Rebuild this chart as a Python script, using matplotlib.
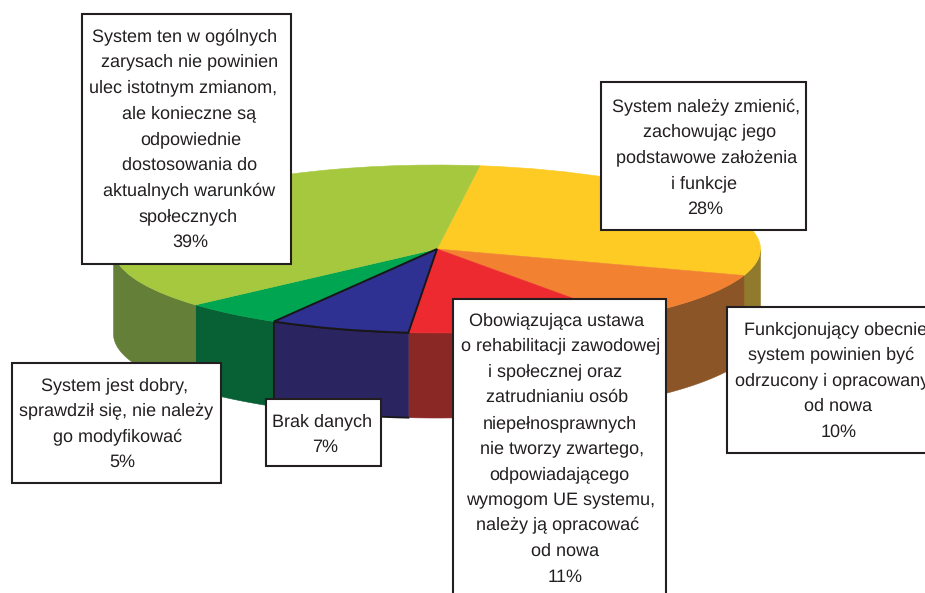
import matplotlib
matplotlib.use('Agg')
import matplotlib.pyplot as plt
import numpy as np

plt.rcParams['font.family'] = ['Liberation Sans', 'DejaVu Sans']
plt.rcParams['text.hinting'] = 'no_hinting'
plt.rcParams['text.hinting_factor'] = 1

# udzialy odpowiedzi, w kolejnosci od zoltego zgodnie z zegarem
values = [28, 10, 11.3, 7, 5, 38.7]
top_colors = ['#FDCB23', '#F28132', '#ED2A2F', '#2E3192', '#00A551', '#A6C83F']
side_colors = ['#8F7A2D', '#8B5527', '#8A2825', '#2A2560', '#086035', '#647F38']

label_lines = [
    ['System należy zmienić,', 'zachowując jego', 'podstawowe założenia', 'i funkcje'],
    ['Funkcjonujący obecnie', 'system powinien być', 'odrzucony i opracowany', 'od nowa'],
    ['Obowiązująca ustawa', 'o rehabilitacji zawodowej', 'i społecznej oraz', 'zatrudnianiu osób',
     'niepełnosprawnych', 'nie tworzy zwartego,', 'odpowiadającego', 'wymogom UE systemu,',
     'należy ją opracować', 'od nowa'],
    ['Brak danych'],
    ['System jest dobry,', 'sprawdził się, nie należy', 'go modyfikować'],
    ['System ten w ogólnych', 'zarysach nie powinien', 'ulec istotnym zmianom,',
     'ale konieczne są', 'odpowiednie', 'dostosowania do', 'aktualnych warunków', 'społecznych'],
]
# ramki x0, y0, x1, y1 w pikselach
boxes = [
    (601, 82, 806, 230),
    (727, 307, 940, 453),
    (453, 299, 666, 610),
    (266, 399, 381, 466),
    (12, 363, 221, 483),
    (82, 14, 291, 264),
]
# srodek kazdej linii, ostatnia to procent
line_x = [
    [706, 710, 707, 704.5, 705],
    [835.5, 831.5, 832, 838, 839],
    [556.5, 561, 555.5, 557, 560, 562.5, 559, 561, 557.5, 565, 565],
    [322, 325.5],
    [115, 116, 118, 122],
    [184.5, 190, 183, 189, 190.5, 190, 189, 188, 190],
]
first_baseline = [111, 334, 325, 426, 390, 41]

W, H = 925, 593
cx, cy, rx, ry, depth = 437, 249, 323.5, 84, 85
start = 82.4
squash = rx / ry
line_gap = 25.7

fig = plt.figure(figsize=(W / 100, H / 100), dpi=100)

ax = fig.add_axes([0, 0, 1, 1])
center = (cx, (H - cy) * squash)
wedges, _ = ax.pie(values, colors=top_colors, startangle=start, counterclock=False,
                   center=center, radius=rx, frame=False,
                   wedgeprops={'linewidth': 0.4, 'zorder': 3})
for w, c in zip(wedges, top_colors):
    w.set_edgecolor(c)
ax.set_aspect('auto')
ax.set_xlim(0, W)
ax.set_ylim(0, H * squash)
ax.axis('off')

# navy slice has a black outline in the original
wedges[3].set_edgecolor('#1A1718')
wedges[3].set_linewidth(1.4)
wedges[3].set_zorder(4)

# boczne sciany - tylko dolna polowa elipsy jest widoczna
ends = start - np.cumsum(values) * 3.6
starts = np.concatenate([[start], ends[:-1]])
for i, (a0, a1, c) in enumerate(zip(starts, ends, side_colors)):
    t = np.linspace(a0, a1, 80)
    t = t[np.sin(np.radians(t)) <= 0]
    if len(t) == 0:
        continue
    x = center[0] + rx * np.cos(np.radians(t))
    y = center[1] + rx * np.sin(np.radians(t))
    xs = np.concatenate([x, x[::-1]])
    ys = np.concatenate([y, y[::-1] - depth * squash])
    ax.fill(xs, ys, color=c, lw=0.4, zorder=2)
    if i == 3:
        ax.plot(xs, ys, color='#1A1718', lw=1.3, zorder=2.5)

# ramki z opisami
over = fig.add_axes([0, 0, 1, 1])
over.set_xlim(0, W)
over.set_ylim(H, 0)
over.axis('off')
over.patch.set_alpha(0)
for box, lines, xs, y0, v in zip(boxes, label_lines, line_x, first_baseline, values):
    x0, y1, x1, y2 = box
    over.add_patch(plt.Rectangle((x0, y1), x1 - x0, y2 - y1, facecolor='white',
                                 edgecolor='#231F20', linewidth=1.5))
    for i, line in enumerate(lines + [f'{round(v)}%']):
        over.text(xs[i], y0 + i * line_gap, line, ha='center', va='baseline',
                  fontsize=13.2, color='#231F20', clip_on=True)

fig.savefig('out.png', dpi=100)
